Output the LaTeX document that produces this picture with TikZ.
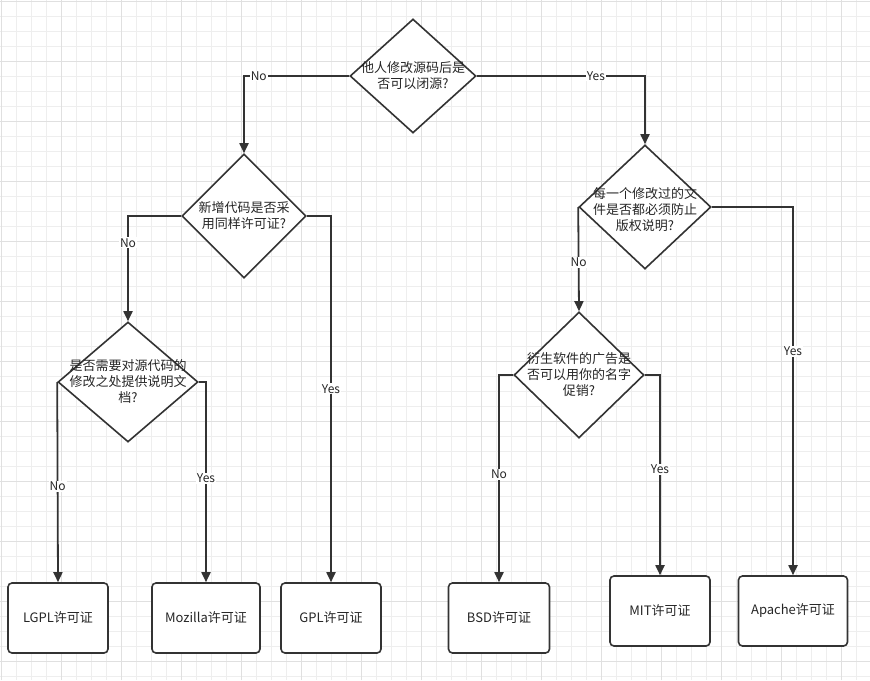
\documentclass[tikz,border=0pt]{standalone}
\usepackage{fontspec}
\setmainfont{Noto Sans CJK SC}
\usepackage{xcolor}
\usetikzlibrary{arrows.meta,shapes.geometric}

\definecolor{gridminor}{HTML}{EEEEEE}
\definecolor{gridmajor}{HTML}{E0E0E0}
\definecolor{ink}{HTML}{333333}

\begin{document}
\begin{tikzpicture}[x=1pt, y=-1pt,
  decision/.style={draw=ink, line width=1.6pt, diamond, inner sep=0pt, fill=white},
  dtext/.style={align=center, font=\fontsize{13}{16}\selectfont, text=black!85, inner sep=0pt},
  licbox/.style={draw=ink, line width=1.6pt, rounded corners=4pt, fill=white, minimum height=70pt, font=\fontsize{13}{16}\selectfont, text=black!85},
  flow/.style={draw=ink, line width=1.8pt, -{Triangle[length=10pt, width=9pt]}},
  ans/.style={fill=white, inner sep=1pt, font=\fontsize{12}{14}\selectfont, text=black!85}]

  % background grid
  \useasboundingbox (0,0) rectangle (870,680);
  \fill[white] (0,0) rectangle (870,680);
  \begin{scope}[shift={(1,1)}]
    \draw[gridminor, line width=0.8pt, step=15pt] (-1,-1) grid (869,679);
    \draw[gridmajor, line width=1pt, step=60pt] (-1,-1) grid (869,679);
  \end{scope}

  % Questions
  \node[decision, minimum width=126pt, minimum height=114pt] (q1) at (413,76) {};
  \node[dtext] (q1t) at (q1) {他人修改源码后是\\否可以闭源?};

  \node[decision, minimum width=124pt, minimum height=124pt] (q2) at (244,216) {};
  \node[dtext] (q2t) at (q2) {新增代码是否采\\用同样许可证?};

  \node[decision, minimum width=132pt, minimum height=124pt] (q3) at (645,207) {};
  \node[dtext] (q3t) at (645,210) {每一个修改过的文\\件是否都必须防止\\版权说明?};

  \node[decision, minimum width=140pt, minimum height=120pt] (q4) at (128,382) {};
  \node[dtext] (q4t) at (q4) {是否需要对源代码的\\修改之处提供说明文\\档?};

  \node[decision, minimum width=130pt, minimum height=126pt] (q5) at (579,375) {};
  \node[dtext] (q5t) at (q5) {衍生软件的广告是\\否可以用你的名字\\促销?};

  % Licences
  \node[licbox, minimum width=100pt] (lgpl) at (58,618) {LGPL许可证};
  \node[licbox, minimum width=108pt] (mozilla) at (206,618) {Mozilla许可证};
  \node[licbox, minimum width=100pt] (gpl) at (331,618) {GPL许可证};
  \node[licbox, minimum width=101pt] (bsd) at (499,618) {BSD许可证};
  \node[licbox, minimum width=100pt] (mit) at (660,611) {MIT许可证};
  \node[licbox, minimum width=109pt] (apache) at (793,611) {Apache许可证};

  % Answers
  \draw[flow] (q1.west) -| (q2.north) node[ans, pos=.43] (a1) {No};
  \draw[flow] (q1.east) -| (q3.north) node[ans, pos=.354] (a2) {Yes};
  \draw[flow] (q2.west) -| (q4.north) node[ans, pos=.627] (a3) {No};
  \draw[flow] (q2.east) -| (gpl.north) node[ans, pos=.736] (a4) {Yes};
  \draw[flow] (q4.west) -- (lgpl.north) node[ans, pos=.52] (a5) {No};
  \draw[flow] (q4.east) -| (mozilla.north) node[ans, pos=.74] (a6) {Yes};
  \draw[flow] (q3.west) -- (q5.north) node[ans, pos=.53] (a7) {No};
  \draw[flow] (q3.east) -| (apache.north) node[ans, pos=.696] (a8) {Yes};
  \draw[flow] (q5.west) -| (bsd.north) node[ans, pos=.74] (a9) {No};
  \draw[flow] (q5.east) -| (mit.north) node[ans, pos=.736] (a10) {Yes};

\end{tikzpicture}
\end{document}
